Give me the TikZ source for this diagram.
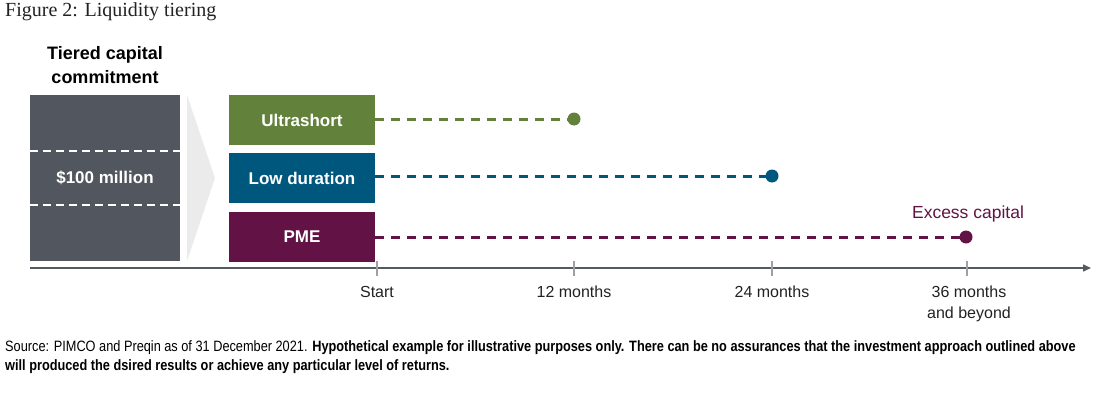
\documentclass[tikz,border=0pt]{standalone}
\usepackage{fontspec}
\setmainfont{Liberation Sans}
\newfontfamily\titlefont{Liberation Serif}
\newfontfamily\condfont[FakeStretch=0.85]{Liberation Sans}
\usetikzlibrary{arrows.meta}
\definecolor{capgrey}{HTML}{52565E}
\definecolor{wedge}{HTML}{EBEBEB}
\definecolor{ugreen}{HTML}{62823C}
\definecolor{lteal}{HTML}{00577E}
\definecolor{ppurple}{HTML}{621244}
\definecolor{txt}{HTML}{222222}
\definecolor{tickgrey}{HTML}{A0A0A0}
\definecolor{axisgrey}{HTML}{555A62}
\tikzset{
  tier/.style={draw=none, minimum width=146pt, minimum height=50pt, inner sep=0pt,
    text=white, font=\fontsize{17}{20}\selectfont\bfseries},
  lead/.style={line width=3pt, dash pattern=on 9pt off 7pt},
  enddot/.style={circle, fill, inner sep=0pt, minimum size=13pt},
  ticklab/.style={text=txt, font=\fontsize{16}{21}\selectfont, align=center, anchor=north, inner sep=0pt},
  tickmark/.style={draw=tickgrey, line width=2pt}
}
\begin{document}
\begin{tikzpicture}[x=1pt,y=-1pt]
\useasboundingbox (0,0) rectangle (1101,399);
% title
\node[anchor=west, inner sep=0pt, text=txt, font=\titlefont\fontsize{20}{22}\selectfont] (title) at (5,12) {Figure 2: Liquidity tiering};
% heading
\node[align=center, inner sep=0pt, text=black, font=\fontsize{18}{24}\selectfont\bfseries] (head) at (105,65) {Tiered capital\\commitment};
% capital box
\node[fill=capgrey, minimum width=150pt, minimum height=166pt, inner sep=0pt] (cap) at (105,178) {};
\draw[white, line width=2pt, dash pattern=on 8pt off 5pt] (cap.west |- 0,151) -- (cap.east |- 0,151);
\draw[white, line width=2pt, dash pattern=on 8pt off 5pt] (cap.west |- 0,205) -- (cap.east |- 0,205);
\node[text=white, font=\fontsize{17}{20}\selectfont\bfseries, inner sep=0pt] (capl) at (105,178) {\$100 million};
% wedge
\fill[wedge] (187,95) -- (215,178) -- (187,261) -- cycle;
% tiers
\node[tier, fill=ugreen] (u) at (302,120) {Ultrashort};
\node[tier, fill=lteal] (l) at (302,178) {Low duration};
\node[tier, fill=ppurple] (p) at (302,236.5) {PME};
% axis
\coordinate (ax0) at (30,268);
\coordinate (ax1) at (1091,268);
\draw[axisgrey, line width=1.5pt, -{Triangle[length=8pt,width=7pt]}] (ax0) -- (ax1);
% ticks
\foreach \x/\n in {377/t0,574/t1,772/t2,967/t3}{
  \coordinate (\n) at (\x,268);
  \draw[tickmark] (\x,261) -- (\x,276);
}
\node[ticklab] (s0) at (377,286) {Start};
\node[ticklab] (s1) at (574,286) {12 months};
\node[ticklab] (s2) at (772,286) {24 months};
\node[ticklab] (s3) at (969,286) {36 months\\and beyond};
% dots and leads
\node[enddot, fill=ugreen] (ud) at (574,119) {};
\node[enddot, fill=lteal] (ld) at (772,176) {};
\node[enddot, fill=ppurple] (pd) at (966,237) {};
\draw[lead, ugreen] (u.east |- ud) -- (ud.center);
\draw[lead, lteal] (l.east |- ld) -- (ld.center);
\draw[lead, ppurple] (p.east |- pd) -- (pd.center);
\node[text=ppurple, font=\fontsize{17.5}{20}\selectfont, inner sep=0pt] (exc) at (968,214) {Excess capital};
% source
\node[anchor=north west, align=left, inner sep=0pt, text=black, font=\condfont\fontsize{15}{19}\selectfont] (src) at (5,340) {Source: PIMCO and Preqin as of 31 December 2021. \textbf{Hypothetical example for illustrative purposes only. There can be no assurances that the investment approach outlined above}\\\textbf{will produced the dsired results or achieve any particular level of returns.}};
\end{tikzpicture}
\end{document}
